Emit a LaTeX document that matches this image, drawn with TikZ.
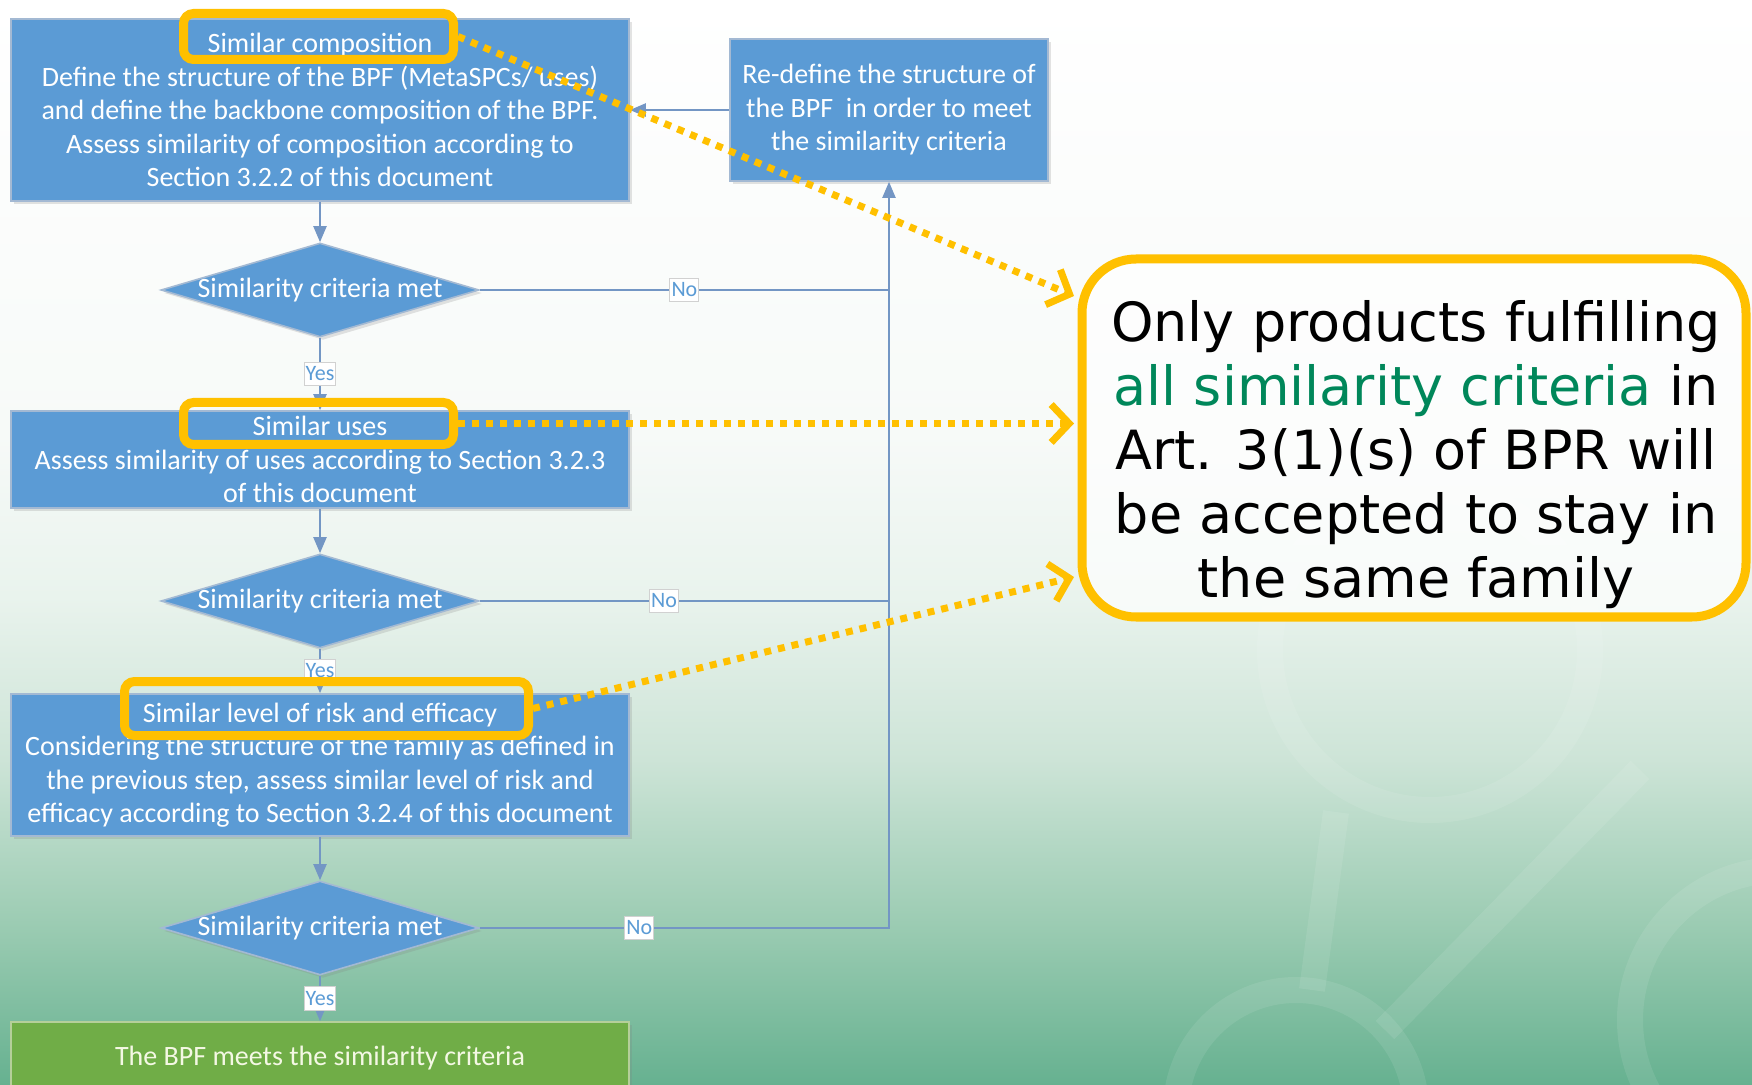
\documentclass[tikz,border=0pt]{standalone}
\usepackage{fontspec}
\newfontfamily\boxfont{Carlito}
\newfontfamily\callfont{DejaVu Sans}
\usetikzlibrary{shapes.geometric,arrows.meta,shadows,calc}

\definecolor{boxblue}{HTML}{5B9BD5}
\definecolor{boxedge}{HTML}{A3B9D3}
\definecolor{linkblue}{HTML}{7396C4}
\definecolor{okgreen}{HTML}{70AD47}
\definecolor{okedge}{HTML}{B5CF9A}
\definecolor{okink}{HTML}{F4F8E4}
\definecolor{marker}{HTML}{FFC000}
\definecolor{critgreen}{HTML}{00875A}
\definecolor{bgA}{HTML}{66B190}
\definecolor{bgB}{HTML}{9CCCB3}
\definecolor{bgC}{HTML}{CDE4D7}
\definecolor{bgD}{HTML}{E9F3ED}
\definecolor{bgE}{HTML}{F7FAF8}

% page background: white at the top fading into sea green at the bottom
\pgfdeclareverticalshading{pagebg}{100bp}{color(0bp)=(bgA); color(25bp)=(bgA);
  color(32.5bp)=(bgB); color(40bp)=(bgC); color(47.5bp)=(bgD); color(55bp)=(bgE);
  color(75bp)=(white); color(100bp)=(white)}

\begin{document}
\begin{tikzpicture}[x=0.5pt,y=-0.5pt,
  boxtext/.style={text=white, font=\boxfont\fontsize{14}{16.75}\selectfont},
  proc/.style={rectangle, fill=boxblue, draw=boxedge, line width=0.8pt, boxtext,
    align=center, inner sep=0pt, minimum width=309pt,
    drop shadow={opacity=0.22, shadow xshift=1.5pt, shadow yshift=-1.5pt}},
  decide/.style={diamond, fill=boxblue, draw=boxedge, line width=0.8pt, inner sep=0pt,
    minimum width=159pt, minimum height=47pt,
    drop shadow={opacity=0.22, shadow xshift=1.5pt, shadow yshift=-1.5pt}},
  link/.style={draw=linkblue, line width=1pt, -{Triangle[length=8pt,width=6.5pt]}},
  plainlink/.style={draw=linkblue, line width=1pt},
  answer/.style={fill=white, draw=black!18, line width=0.5pt, text=boxblue,
    font=\boxfont\fontsize{11}{12}\selectfont, inner xsep=0.8pt, inner ysep=2.2pt},
  hilite/.style={draw=marker, line width=4.5pt, rounded corners=5pt, inner sep=0pt},
  pointer/.style={draw=marker, line width=3.5pt, dash pattern=on 3.5pt off 3.5pt,
    -{Straight Barb[length=9pt,width=19pt]}},
  callout/.style={rectangle, rounded corners=27pt, draw=marker, line width=4.5pt,
    fill=white, fill opacity=0.7, minimum width=332pt, minimum height=179pt},
  callouttext/.style={align=center, inner sep=0pt,
    font=\callfont\fontsize{27}{32}\selectfont}
]
\useasboundingbox (0,0) rectangle (1752,1085);
\clip (0,0) rectangle (1752,1085);
\shade[shading=pagebg] (0,0) rectangle (1752,1085);

% faint network watermark in the lower right
\begin{scope}[draw=white, draw opacity=0.09, line width=13pt]
  \draw (1296,1110) circle[radius=120];
  \draw (1430,650) circle[radius=160];
  \draw (1780,1020) circle[radius=150];
  \draw (1312,990) -- (1336,812);
  \draw (1385,1030) -- (1640,770);
  \draw (1412,1165) -- (1640,1125);
\end{scope}

% process steps
\node[proc, minimum height=91pt] (b1) at (320,110)
  {Similar composition\\Define the structure of the BPF (MetaSPCs/ uses)\\and define the backbone composition of the BPF.\\Assess similarity of composition according to\\Section 3.2.2 of this document};
\node[proc, minimum width=159pt, minimum height=71pt] (r) at (889,110)
  {Re-define the structure of\\the BPF\ \ in order to meet\\the similarity criteria};
\node[decide, label={[boxtext, inner sep=0pt]center:Similarity criteria met}] (d1) at (320,290) {};
\node[proc, minimum height=48.5pt] (b2) at (320,459.5)
  {Similar uses\\Assess similarity of uses according to Section 3.2.3\\of this document};
\node[decide, label={[boxtext, inner sep=0pt]center:Similarity criteria met}] (d2) at (320,601) {};
\node[proc, minimum height=71pt] (b3) at (320,765)
  {Similar level of risk and efficacy\\Considering the structure of the family as defined in\\the previous step, assess similar level of risk and\\efficacy according to Section 3.2.4 of this document};
\node[decide, label={[boxtext, inner sep=0pt]center:Similarity criteria met}] (d3) at (320,928) {};
\node[proc, fill=okgreen, draw=okedge, text=okink, minimum height=36pt] (g) at (320,1058)
  {The BPF meets the similarity criteria};

% flow connectors
\draw[link] (b1.south) -- (d1.north);
\draw[link] (d1.south) -- node[answer]{Yes} (b2.north);
\draw[link] (b2.south) -- (d2.north);
\draw[link] (d2.south) -- node[answer]{Yes} (b3.north);
\draw[link] (b3.south) -- (d3.north);
\draw[link] (d3.south) -- node[answer]{Yes} (g.north);
\draw[plainlink] (d1.east) -- node[answer, pos=0.5]{No} (d1.east -| r.south);
\draw[plainlink] (d2.east) -- node[answer, pos=0.45]{No} (d2.east -| r.south);
\draw[link] (d3.east) -- node[answer, pos=0.39]{No} (d3.east -| r.south) -- (r.south);
\draw[link] (r.west) -- (b1.east);

% highlighted step titles
\node[hilite, minimum width=135pt, minimum height=23pt] (h1) at (318.5,36.5) {};
\node[hilite, minimum width=135pt, minimum height=21pt] (h2) at (318.5,423.5) {};
\node[hilite, minimum width=202pt, minimum height=27pt] (h3) at (326.5,708.5) {};

% summary box
\node[callout] (c) at (1414,438) {};
\node[callouttext] (ct) at (1416,455)
  {Only products fulfilling\\{\color{critgreen}all similarity criteria} in\\Art. 3(1)(s) of BPR will\\be accepted to stay in\\the same family};

\coordinate (e1) at (1074,296);
\coordinate (e2) at (1074,423.5);
\coordinate (e3) at (1074,577);
\draw[pointer] (h1.east) -- (e1);
\draw[pointer] (h2.east) -- (e2);
\draw[pointer] (h3.east) -- (e3);
\end{tikzpicture}
\end{document}
